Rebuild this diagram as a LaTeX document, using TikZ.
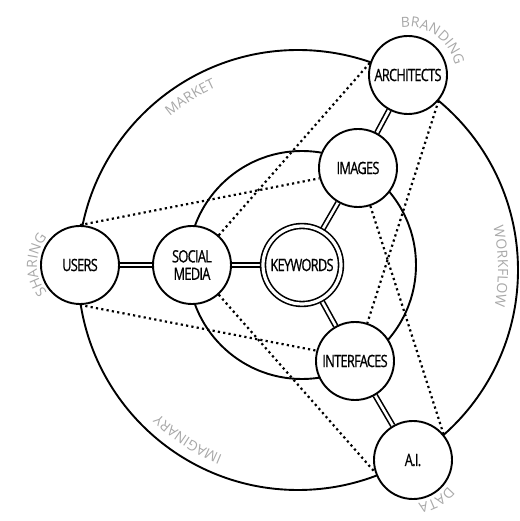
\documentclass[tikz,border=0pt]{standalone}
\usepackage{fontspec}
\newfontfamily\nodefont{Open Sans}[FakeStretch=0.75,LetterSpace=-4,FakeBold=0.8]
\newfontfamily\tagfont{Open Sans}
\usetikzlibrary{calc,backgrounds}
\definecolor{taggray}{RGB}{168,168,168}
\newcommand{\tagsize}{14}
\newcommand{\tagstyle}{\tagfont\fontsize{\tagsize}{16}\selectfont}
\tikzset{
  topic/.style={
    circle,
    draw=black,
    line width=1.9pt,
    fill=white,
    minimum size=78pt,
    inner sep=0pt,
    align=center,
    font=\nodefont\fontsize{17}{17.5}\selectfont
  },
  core/.style={topic, double, double distance=3.2pt, line width=1.6pt},
  link/.style={double, double distance=2.6pt, line width=1.6pt},
  hint/.style={line width=2.2pt, dash pattern=on 2.2pt off 3.2pt},
  ring/.style={line width=1.9pt},
  tagchar/.style={text=taggray, font=\tagstyle, inner sep=0pt, anchor=base}
}
% letters (letter/width in em) set round a circle, read clockwise, tops outward
\newcommand{\ringword}[4]{%
  \gdef\ringsum{0}%
  \foreach \ch/\w in {#4} {\pgfmathparse{\ringsum+\w}\xdef\ringsum{\pgfmathresult}}%
  \gdef\ringrun{0}%
  \foreach \ch/\w in {#4} {%
    \pgfmathsetmacro{\ringang}{#3+(0.5*\ringsum-\ringrun-0.5*\w)*\tagsize/(#2)*180/pi}%
    \node[tagchar, rotate=\ringang-90] at ($(#1)+(\ringang:#2pt)$) {\ch};
    \pgfmathparse{\ringrun+\w}\xdef\ringrun{\pgfmathresult}%
  }%
}

\begin{document}
\begin{tikzpicture}[x=1pt, y=1pt]
  \useasboundingbox (-300,-255) rectangle (219,266);
  \coordinate (hub) at (-2,-4);
  \node[core]  (kw)     at (2,1) {KEYWORDS};
  \node[topic] (social) at (-108,1) {SOCIAL\\MEDIA};
  \node[topic] (images) at (58,98) {IMAGES};
  \node[topic] (iface)  at (55,-95) {INTERFACES};
  \node[topic] (users)  at (-220,1) {USERS};
  \node[topic] (arch)   at (108,191) {ARCHITECTS};
  \node[topic] (ai)     at (113,-194) {A.I.};
  \begin{scope}[on background layer]
    \draw[ring] (hub) circle[radius=220pt];
    \draw[ring] (kw) circle[radius=114pt];
    \draw[link] (users) -- (social);
    \draw[link] (social) -- (kw);
    \draw[link] (kw) -- (images);
    \draw[link] (images) -- (arch);
    \draw[link] (kw) -- (iface);
    \draw[link] (iface) -- (ai);
  \end{scope}
  % dotted cross links
  \draw[hint] (users.90) -- (images.195);
  \draw[hint] (users.-90) -- (iface.165);
  \draw[hint] (social.48) -- (arch.162);
  \draw[hint] (social.-48) -- (ai.198);
  \draw[hint] (arch.-40) -- (iface.72);
  \draw[hint] (ai.40) -- (images.-72);
  % grey words round the rings
  \ringword{hub}{200}{122}{M/.903,A/.633,R/.645,K/.613,E/.556,T/.548}
  \ringword{hub}{200}{-123}{I/.279,M/.903,A/.633,G/.728,I/.279,N/.754,A/.633,R/.645,Y/.543}
  \ringword{hub}{200}{1}{W/.921,O/.779,R/.645,K/.613,F/.516,L/.522,O/.779,W/.921}
  \ringword{arch}{48}{55}{B/.648,R/.645,A/.633,N/.754,D/.729,I/.279,N/.754,G/.728}
  \ringword{ai}{44}{-60}{D/.729,A/.633,T/.548,A/.633}
  \ringword{users}{43}{180}{S/.560,H/.738,A/.633,R/.645,I/.279,N/.754,G/.728}
\end{tikzpicture}
\end{document}
